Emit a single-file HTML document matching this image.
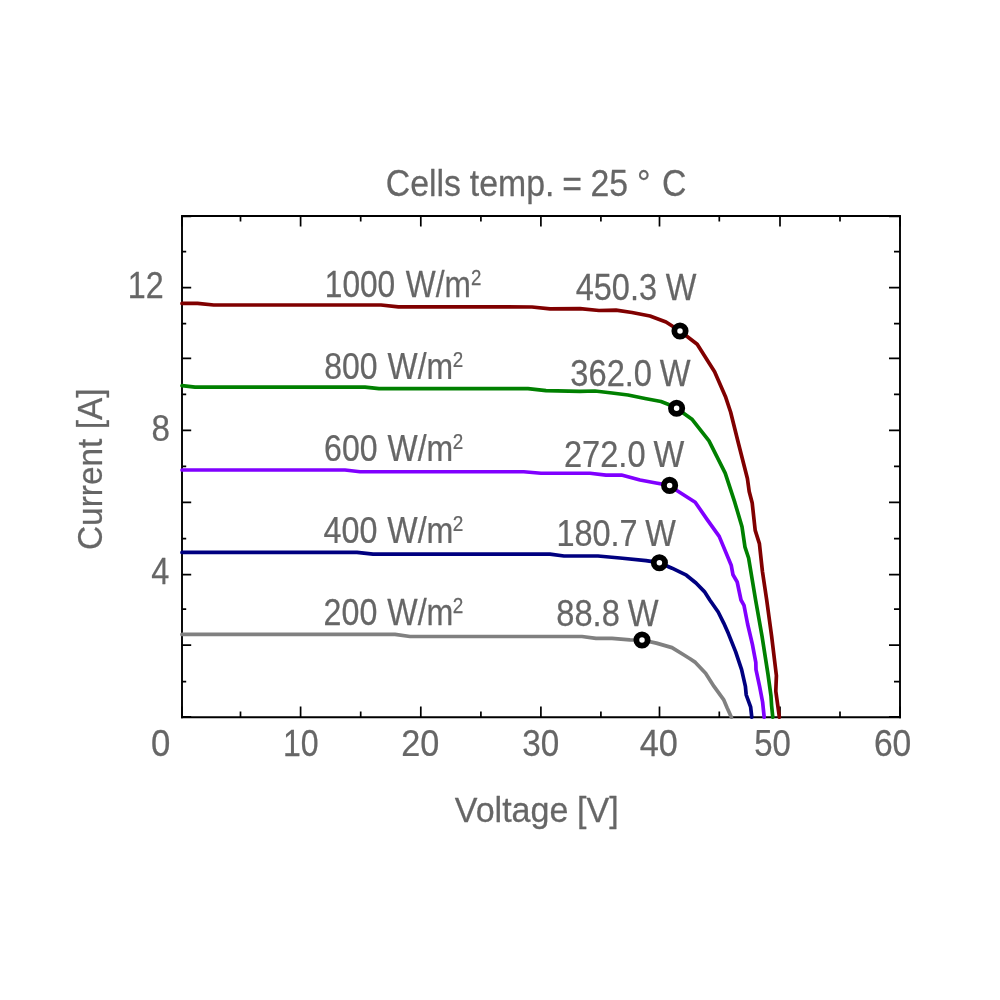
<!DOCTYPE html>
<html lang="en"><head><meta charset="utf-8"><title>I-V curves</title>
<style>html,body{margin:0;padding:0;background:#fff}svg{display:block}text{font-family:"Liberation Sans",Arial,Helvetica,sans-serif;fill:#666666;stroke:#666666;stroke-width:0.25px;stroke-linejoin:round}</style></head><body>
<svg width="1000" height="1000" viewBox="0 0 1000 1000">
<rect width="1000" height="1000" fill="#ffffff"/>
<path d="M182.0,216.0H900.0M182.0,215.0V718.15M900.0,215.0V718.15" fill="none" stroke="#000" stroke-width="1.9"/>
<path d="M181.0,717.2H901.0" fill="none" stroke="#000" stroke-width="1.9"/>
<path d="M240.5,717.2v-5.6M240.5,216.0v5.6M300.6,717.2v-10.6M300.6,216.0v10.6M360.7,717.2v-5.6M360.7,216.0v5.6M420.8,717.2v-10.6M420.8,216.0v10.6M480.9,717.2v-5.6M480.9,216.0v5.6M540.9,717.2v-10.6M540.9,216.0v10.6M600.9,717.2v-5.6M600.9,216.0v5.6M659.5,717.2v-10.6M659.5,216.0v10.6M719.3,717.2v-5.6M719.3,216.0v5.6M780,717.2v-10.6M780,216.0v10.6M840,717.2v-5.6M840,216.0v5.6M182.0,251.7h4.2M900.0,251.7h-6.0M182.0,287.7h9.2M900.0,287.7h-11.0M182.0,323.7h4.2M900.0,323.7h-6.0M182.0,358.4h9.2M900.0,358.4h-11.0M182.0,394.4h4.2M900.0,394.4h-6.0M182.0,430.4h9.2M900.0,430.4h-11.0M182.0,466.4h4.2M900.0,466.4h-6.0M182.0,502.4h9.2M900.0,502.4h-11.0M182.0,538.7h4.2M900.0,538.7h-6.0M182.0,574.7h9.2M900.0,574.7h-11.0M182.0,609.1h4.2M900.0,609.1h-6.0M182.0,645.1h9.2M900.0,645.1h-11.0M182.0,681.6h4.2M900.0,681.6h-6.0M182.0,716.9000000000001h9.2M900.0,716.9000000000001h-11M182.0,216.3h9.2M900.0,216.3h-11M181.9,216.0v10.6M900.1,216.0v10.6M181.9,717.2v-10.6M900.1,717.2v-10.6" stroke="#000" stroke-width="1.7" fill="none"/>
<g fill="none" stroke-width="3.7" stroke-linejoin="round" stroke-linecap="round">
<path d="M182,303.4 L197.5,303.4 L213.75,305 L381,305 L398.4,306.8 L532,307 L550,308.8 L580,308.6 L599,310.5 L616,310.2 L632,312.5 L650,316 L666,322 L680,331 L697.2,344.2 L714.6,371.8 L725.4,396.4 L730.6,412 L738.4,443.2 L747.4,478.5 L749.2,491.5 L752.2,503 L755.2,530.4 L759.4,543.6 L762.4,571.2 L766.7,600 L771.6,636 L776.4,675.6 L775.8,691.2 L779.4,717.2" stroke="#800000"/>
<path d="M182,385.6 L195,387.1 L365,387.1 L379,388.7 L528,388.7 L546,390.7 L580,391.3 L595,391 L612,393 L628,395 L645,398.5 L661,401.5 L668,404.3 L676.6,408.2 L692.3,419.6 L709,440.8 L725.2,473.2 L734.8,502.4 L742,526.8 L745,547.2 L748.6,558 L751.6,576 L755.6,600 L762,636 L768,674.4 L771,696 L771.6,705.6 L772.8,717.2" stroke="#008000"/>
<path d="M182,470 L345,470 L360,471.75 L523.75,471.75 L541,473.25 L590,473.25 L606,475.2 L621.5,475 L640,480 L656,483 L669.6,485.4 L677.2,490.8 L695.2,502.2 L707.2,519.6 L719.2,536.4 L731.2,565.2 L733,574.8 L737.2,582 L741,600 L744,605.4 L747.6,624 L752.4,644.4 L755.8,662.4 L756,669.6 L759.6,686.4 L762.6,702 L764.2,717.2" stroke="#8000ff"/>
<path d="M182,552.4 L357,552.4 L373,554.2 L550,554.2 L564,556 L598,556 L620,558 L646,560.6 L659.4,562.7 L672,568.2 L686.4,575.2 L696,583 L704.4,591.6 L709.8,600 L718.2,612 L723.6,622.8 L728.4,633.6 L735.6,651.6 L741.6,669.6 L745.4,686.4 L746.2,694.8 L750.6,706.8 L751.8,717.2" stroke="#000080"/>
<path d="M182,634.4 L395,634.4 L410,636.5 L582,636.5 L596,638.4 L612,638.4 L630,639.8 L642,640 L656.4,643.1 L672,647.6 L684,655 L690,658.8 L695.4,662.4 L705.6,673.2 L714,686.4 L723.6,699.6 L727.2,708 L731.4,717.2" stroke="#808080"/>
</g>
<circle cx="680" cy="331" r="5.65" fill="#fff" stroke="#000" stroke-width="5.8"/>
<circle cx="676.6" cy="408.2" r="5.65" fill="#fff" stroke="#000" stroke-width="5.8"/>
<circle cx="669.6" cy="485.4" r="5.65" fill="#fff" stroke="#000" stroke-width="5.8"/>
<circle cx="659.4" cy="562.7" r="5.65" fill="#fff" stroke="#000" stroke-width="5.8"/>
<circle cx="642" cy="640" r="5.65" fill="#fff" stroke="#000" stroke-width="5.8"/>
<text transform="translate(0,195.6) scale(0.9143,1)" font-size="37"><tspan x="421.94">Cells </tspan><tspan x="513.79">temp. </tspan><tspan x="614.83">= </tspan><tspan x="645.89">25 </tspan><tspan x="696.84">° </tspan><tspan x="724.10">C</tspan></text>
<text transform="translate(0,756.2) scale(0.9524,1)" x="158.55" font-size="36.5">0</text>
<text transform="translate(0,756.2) scale(0.8789,1)" x="321.98" font-size="36.5">10</text>
<text transform="translate(0,756.2) scale(0.9378,1)" x="427.90" font-size="36.5">20</text>
<text transform="translate(0,756.2) scale(0.9106,1)" x="573.64" font-size="36.5">30</text>
<text transform="translate(0,756.2) scale(0.9393,1)" x="681.15" font-size="36.5">40</text>
<text transform="translate(0,756.2) scale(0.9022,1)" x="836.06" font-size="36.5">50</text>
<text transform="translate(0,756.2) scale(0.9217,1)" x="948.13" font-size="36.5">60</text>
<text transform="translate(0,297.8) scale(0.8845,1)" x="144.46" font-size="36.5">12</text>
<text transform="translate(0,440.6) scale(0.9094,1)" x="166.70" font-size="36.5">8</text>
<text transform="translate(0,583.8) scale(0.8897,1)" x="170.02" font-size="36.5">4</text>
<text transform="translate(0,821.6) scale(0.9543,1)" font-size="35.7"><tspan x="476.59">Voltage </tspan><tspan x="604.75">[V]</tspan></text>
<text transform="translate(102.25,550.07) rotate(-90) scale(0.9363,1)" font-size="35.7">Current [A]</text>
<text transform="translate(0,297) scale(0.8677,1)" font-size="36.5"><tspan x="374.31">1000 </tspan><tspan x="467.71">W/m</tspan><tspan x="542.93" dy="-11.8" font-size="21.5">2</tspan></text>
<text transform="translate(0,378.8) scale(0.8758,1)" font-size="36.5"><tspan x="370.26">800 </tspan><tspan x="442.47">W/m</tspan><tspan x="517.05" dy="-11.8" font-size="21.5">2</tspan></text>
<text transform="translate(0,460.6) scale(0.8776,1)" font-size="36.5"><tspan x="369.28">600 </tspan><tspan x="441.47">W/m</tspan><tspan x="515.95" dy="-11.8" font-size="21.5">2</tspan></text>
<text transform="translate(0,543) scale(0.8831,1)" font-size="36.5"><tspan x="366.39">400 </tspan><tspan x="438.50">W/m</tspan><tspan x="512.71" dy="-11.8" font-size="21.5">2</tspan></text>
<text transform="translate(0,625) scale(0.8822,1)" font-size="36.5"><tspan x="366.85">200 </tspan><tspan x="438.97">W/m</tspan><tspan x="513.22" dy="-11.8" font-size="21.5">2</tspan></text>
<text transform="translate(0,299.5) scale(0.8904,1)" font-size="36.5"><tspan x="646.55">450.3 </tspan><tspan x="747.84">W</tspan></text>
<text transform="translate(0,386) scale(0.8938,1)" font-size="36.5"><tspan x="638.13">362.0 </tspan><tspan x="738.22">W</tspan></text>
<text transform="translate(0,466.6) scale(0.8931,1)" font-size="36.5"><tspan x="631.48">272.0 </tspan><tspan x="731.69">W</tspan></text>
<text transform="translate(0,545.8) scale(0.8891,1)" font-size="36.5"><tspan x="625.83">180.7 </tspan><tspan x="725.62">W</tspan></text>
<text transform="translate(0,626.2) scale(0.8940,1)" font-size="36.5"><tspan x="622.25">88.8 </tspan><tspan x="702.25">W</tspan></text>
</svg></body></html>
